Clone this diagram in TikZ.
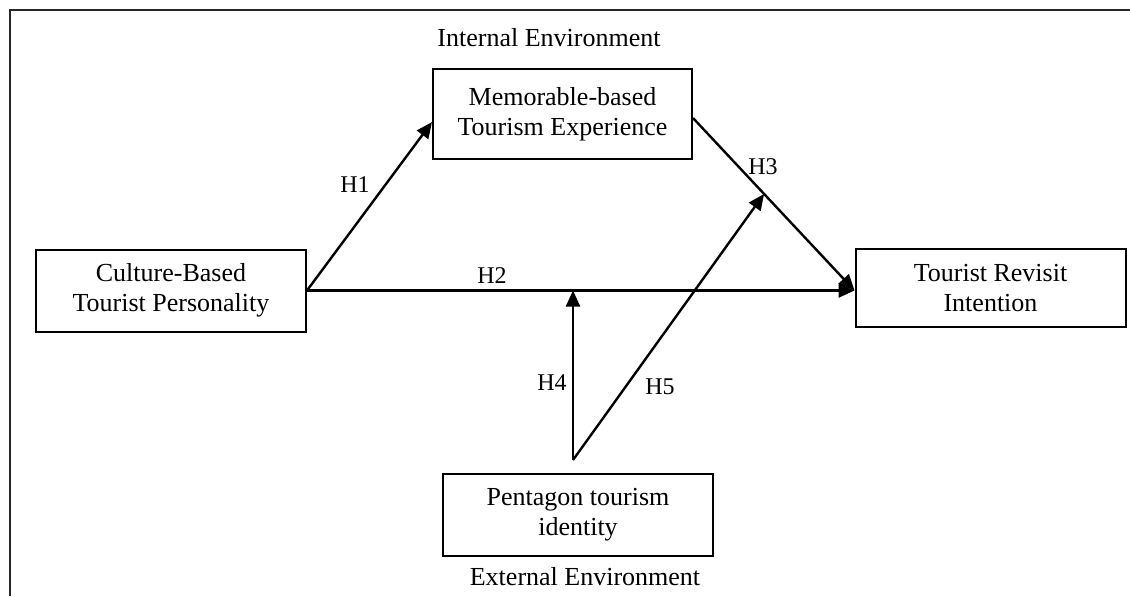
\documentclass[tikz,border=0pt]{standalone}
\usepackage{fontspec}
\setmainfont{Liberation Serif}
\usetikzlibrary{arrows.meta,calc}

\begin{document}
\begin{tikzpicture}[x=0.5pt, y=-0.5pt,
  every node/.style={font=\fontsize{13}{15}\selectfont},
  box/.style={draw, line width=1pt, align=center, inner sep=0pt,
    minimum width=135pt, minimum height=41pt},
  hyp/.style={font=\fontsize{12}{14}\selectfont},
  link/.style={line width=1.2pt, -{Triangle[length=8pt, width=7pt]}}]
  \useasboundingbox (0,0) rectangle (1130,596);
  \draw[line width=1pt, black!85] (10,596) -- (10,10) -- (1130,10);

  \node[box] (cbtp) at (171,290.5) {Culture-Based\\Tourist Personality};
  \node[box, minimum width=129.5pt, minimum height=45pt] (mbte) at (562.5,114) {Memorable-based\\Tourism Experience};
  \node[box, minimum height=39pt] (tri) at (990.5,288) {Tourist Revisit\\Intention};
  \node[box] (pti) at (578,515) {Pentagon tourism\\identity};

  \node (intenv) at (549,38) {Internal Environment};
  \node (extenv) at (585,577) {External Environment};

  \coordinate (tip) at (cbtp.east -| tri.west);
  \coordinate (h3start) at ($(mbte.east)+(0,-2pt)$);
  \coordinate (h5end) at ($(h3start)!0.44!(tip)$);
  \coordinate (src) at (573,460);

  \draw[link] (cbtp.east) -- ([yshift=-4pt]mbte.west);
  \draw[link] (cbtp.east) -- (tip);
  \draw[link] (h3start) -- (tip);
  \draw[link] (src) -- (src |- tip);
  \draw[link] (src) -- (h5end);

  \node[hyp] (h1) at (355,185) {H1};
  \node[hyp] (h2) at (492,276) {H2};
  \node[hyp] (h3) at (763,167) {H3};
  \node[hyp] (h4) at (552,383) {H4};
  \node[hyp] (h5) at (660,387) {H5};
\end{tikzpicture}
\end{document}
